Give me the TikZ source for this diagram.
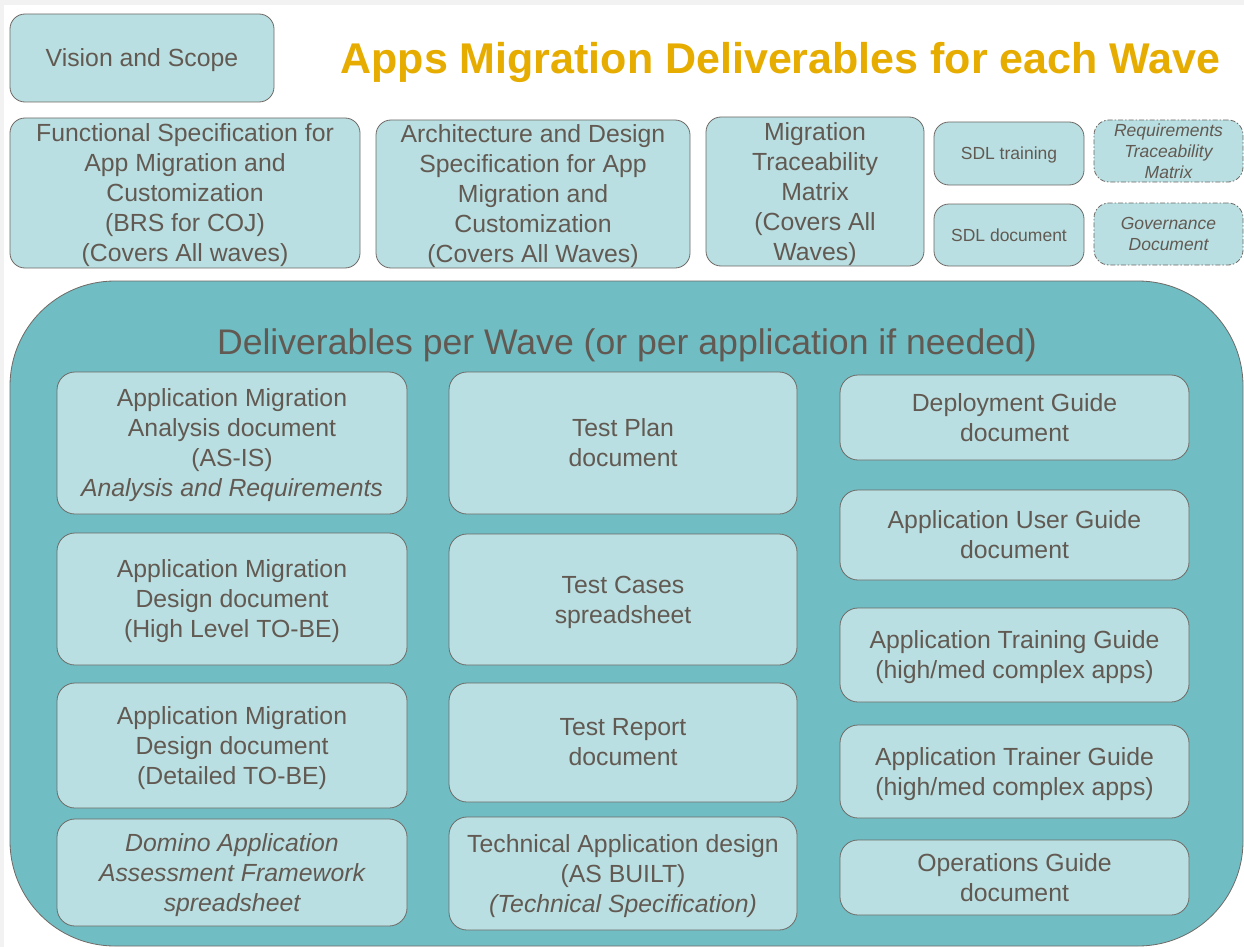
\documentclass[tikz,border=0pt]{standalone}
\usepackage{fontspec}
\setmainfont{Liberation Sans}
\definecolor{lightc}{HTML}{B9DFE2}
\definecolor{bigc}{HTML}{70BDC4}
\definecolor{bordc}{HTML}{6F6A66}
\definecolor{textc}{HTML}{625A52}
\definecolor{titlec}{HTML}{E6AC00}
\definecolor{bgc}{HTML}{F2F2F2}
\newcommand\lastline[1]{\raisebox{0pt}[\height][0pt]{#1}}
\begin{document}
\begin{tikzpicture}[x=1pt,y=-1pt,
  box/.style={draw=bordc, fill=lightc, rounded corners=15pt, inner sep=0pt, align=center, text=textc, line width=0.8pt, font=\fontsize{24.8}{30}\selectfont},
  smallbox/.style={box, font=\fontsize{17.5}{21}\selectfont},
  dashbox/.style={smallbox, dash pattern=on 5pt off 2pt on 1.5pt off 2pt, font=\fontsize{17.5}{21}\selectfont\itshape},
  inbox/.style={box, rounded corners=18pt}]
\fill[bgc] (0,0) rectangle (1244,947);
\fill[white] (4,5) rectangle (1244,947);
\useasboundingbox (0,0) rectangle (1244,947);

% top row
\node[box, minimum width=264pt, minimum height=88pt] (vision) at (142,58) {\lastline{Vision and Scope}};
\node[text=titlec, anchor=base, font=\fontsize{43}{50}\selectfont\bfseries, inner sep=0pt] (title) at (780.5,74) {Apps Migration Deliverables for each Wave};

\node[box, minimum width=350pt, minimum height=150pt] (func) at (185,193) {Functional Specification for\\App Migration and\\Customization\\(BRS for COJ)\\\lastline{(Covers All waves)}};
\node[box, minimum width=314pt, minimum height=148pt] (arch) at (533,194) {Architecture and Design\\Specification for App\\Migration and\\Customization\\\lastline{(Covers All Waves)}};
\node[box, minimum width=218pt, minimum height=149pt] (mtm) at (815,191.5) {Migration\\Traceability\\Matrix\\(Covers All\\\lastline{Waves)}};
\node[smallbox, minimum width=150pt, minimum height=63pt] (sdlt) at (1009,153.5) {\lastline{SDL training}};
\node[smallbox, minimum width=150pt, minimum height=62pt] (sdld) at (1009,235) {SDL document};
\node[dashbox, minimum width=149pt, minimum height=62pt] (rtm) at (1168.5,151) {Requirements\\Traceability\\Matrix};
\node[dashbox, minimum width=149pt, minimum height=62pt] (gov) at (1168.5,234) {Governance\\Document};

% big container
\draw[draw=bordc, fill=bigc, line width=0.8pt, rounded corners=105pt] (10,281) rectangle (1243,946);
\node[text=textc, font=\fontsize{35.6}{40}\selectfont, inner sep=0pt] (head) at (627,342) {\lastline{Deliverables per Wave (or per application if needed)}};

% column 1
\node[inbox, minimum width=350pt, minimum height=142pt] (a1) at (232,443) {Application Migration\\Analysis document\\(AS-IS)\\\lastline{\textit{Analysis and Requirements}}};
\node[inbox, minimum width=350pt, minimum height=132pt] (a2) at (232,599) {Application Migration\\Design document\\\lastline{(High Level TO-BE)}};
\node[inbox, minimum width=350pt, minimum height=125pt] (a3) at (232,745.5) {Application Migration\\Design document\\\lastline{(Detailed TO-BE)}};
\node[inbox, minimum width=350pt, minimum height=107pt, font=\fontsize{24.8}{30}\selectfont\itshape] (a4) at (232,872.5) {Domino Application\\Assessment Framework\\\lastline{spreadsheet}};

% column 2
\node[inbox, minimum width=348pt, minimum height=142pt] (b1) at (623,443) {Test Plan\\document};
\node[inbox, minimum width=348pt, minimum height=131pt] (b2) at (623,599.5) {Test Cases\\\lastline{spreadsheet}};
\node[inbox, minimum width=348pt, minimum height=119pt] (b3) at (623,742.5) {Test Report\\document};
\node[inbox, minimum width=348pt, minimum height=113pt] (b4) at (623,873.5) {Technical Application design\\(AS BUILT)\\\lastline{\textit{(Technical Specification)}}};

% column 3
\node[inbox, minimum width=349pt, minimum height=85pt] (c1) at (1014.5,417.5) {Deployment Guide\\document};
\node[inbox, minimum width=349pt, minimum height=90pt] (c2) at (1014.5,535) {Application User Guide\\document};
\node[inbox, minimum width=349pt, minimum height=94pt] (c3) at (1014.5,655) {Application Training Guide\\\lastline{(high/med complex apps)}};
\node[inbox, minimum width=349pt, minimum height=93pt] (c4) at (1014.5,771.5) {Application Trainer Guide\\\lastline{(high/med complex apps)}};
\node[inbox, minimum width=349pt, minimum height=75pt] (c5) at (1014.5,877.5) {Operations Guide\\document};
\end{tikzpicture}
\end{document}
